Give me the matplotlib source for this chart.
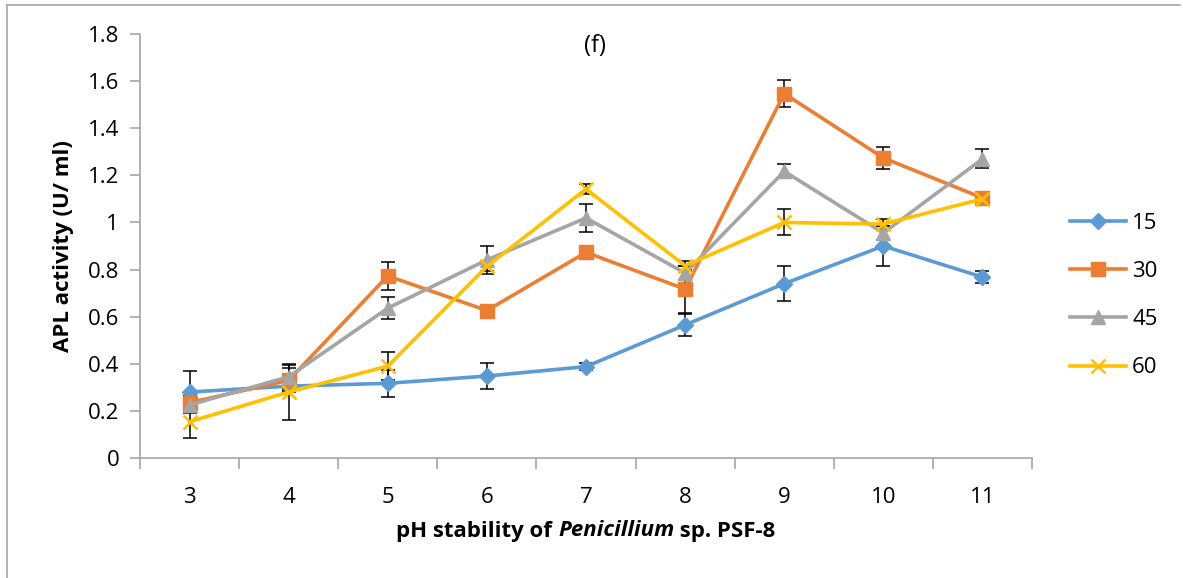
import matplotlib
matplotlib.use("Agg")
import matplotlib.pyplot as plt
from matplotlib.offsetbox import TextArea, HPacker, AnchoredOffsetbox
from matplotlib.lines import Line2D

ph = [3, 4, 5, 6, 7, 8, 9, 10, 11]
series_names = ["15", "30", "45", "60"]
v15 = [0.28, 0.305, 0.317, 0.348, 0.388, 0.565, 0.74, 0.90, 0.768]
e15 = [0.09, 0.02, 0.057, 0.055, 0.015, 0.045, 0.075, 0.085, 0.025]
v30 = [0.235, 0.33, 0.773, 0.626, 0.873, 0.717, 1.547, 1.274, 1.104]
e30 = [0.03, 0.05, 0.058, 0.01, 0.01, 0.10, 0.057, 0.047, 0.01]
v45 = [0.225, 0.345, 0.636, 0.841, 1.019, 0.785, 1.217, 0.955, 1.27]
e45 = [0.03, 0.05, 0.046, 0.06, 0.06, 0.03, 0.03, 0.03, 0.04]
v60 = [0.154, 0.28, 0.39, 0.813, 1.142, 0.816, 1.0, 0.993, 1.10]
e60 = [0.068, 0.12, 0.06, 0.02, 0.02, 0.02, 0.055, 0.022, 0.01]

colors = ["#5B9BD5", "#ED7D31", "#A5A5A5", "#FFC000"]
markers = ["D", "s", "^", "x"]
msizes = [8, 10, 10, 10]

plt.rcParams['font.family'] = ['Open Sans', 'DejaVu Sans']

fig = plt.figure(figsize=(11.83, 5.78), dpi=100)
ax = fig.add_axes([140/1183, 1-458/578, (1032-140)/1183, (458-34)/578])

xs = list(range(len(ph)))
vals = [v15, v30, v45, v60]
errs = [e15, e30, e45, e60]
handles = []
for name, v, e, c, m, ms in zip(series_names, vals, errs, colors, markers, msizes):
    ax.errorbar(xs, v, yerr=e, fmt='none', ecolor='black', elinewidth=1.1,
                capsize=5, capthick=1.1, zorder=2)
for name, v, e, c, m, ms in zip(series_names, vals, errs, colors, markers, msizes):
    mew = 1.8 if m == 'x' else 1
    ln, = ax.plot(xs, v, color=c, lw=2.6, marker=m, markersize=ms,
                  markerfacecolor=c, markeredgecolor=c, markeredgewidth=mew,
                  label=name, zorder=3)
    handles.append(ln)

ax.set_xlim(-0.5, len(ph) - 0.5)
ax.set_ylim(0, 1.8)
ax.set_yticks([0, 0.2, 0.4, 0.6, 0.8, 1.0, 1.2, 1.4, 1.6, 1.8])
ax.set_yticklabels(["0", "0.2", "0.4", "0.6", "0.8", "1", "1.2", "1.4", "1.6", "1.8"])
ax.set_xticks(xs)
ax.set_xticklabels([str(p) for p in ph])
ax.set_xticks([i - 0.5 for i in range(len(ph) + 1)], minor=True)
ax.tick_params(axis='x', which='major', length=0, pad=21, labelsize=16)
ax.tick_params(axis='x', which='minor', length=8, color='#A6A6A6', width=1.2)
ax.tick_params(axis='y', length=7, color='#A6A6A6', width=1.2, labelsize=16, pad=8)
for s in ['top', 'right']:
    ax.spines[s].set_visible(False)
for s in ['left', 'bottom']:
    ax.spines[s].set_color('#A6A6A6')
    ax.spines[s].set_linewidth(1.2)

ax.set_ylabel("APL activity (U/ ml)", fontsize=16, fontweight='bold', labelpad=10)
fig.text(595/1183, 1-46/578, "(f)", ha='center', va='center', fontsize=17)

# x label with italic part
fs = 16
t1 = TextArea("pH stability of ", textprops=dict(fontsize=fs, fontweight='bold'))
t2 = TextArea("Penicillium", textprops=dict(fontsize=fs, fontweight='bold', style='italic'))
t3 = TextArea(" sp. PSF-8", textprops=dict(fontsize=fs, fontweight='bold'))
box = HPacker(children=[t1, t2, t3], align='baseline', pad=0, sep=0)
ab = AnchoredOffsetbox(loc='center', child=box, frameon=False,
                       bbox_to_anchor=(586/1183, 1-531/578),
                       bbox_transform=fig.transFigure, pad=0, borderpad=0)
fig.add_artist(ab)

leg = fig.legend(handles=handles, labels=series_names, loc='upper left',
                 bbox_to_anchor=(1050/1183, 1-193/578), frameon=False,
                 fontsize=16, handlelength=2.5, labelspacing=1.22, handletextpad=0.3)

# figure border (top and left visible)
fig.add_artist(Line2D([7/1183, 1180/1183], [1-5/578, 1-5/578], color='#A6A6A6', lw=1.2,
                      transform=fig.transFigure))
fig.add_artist(Line2D([7/1183, 7/1183], [0, 1-5/578], color='#A6A6A6', lw=1.2,
                      transform=fig.transFigure))

fig.savefig("out.png", dpi=100)
